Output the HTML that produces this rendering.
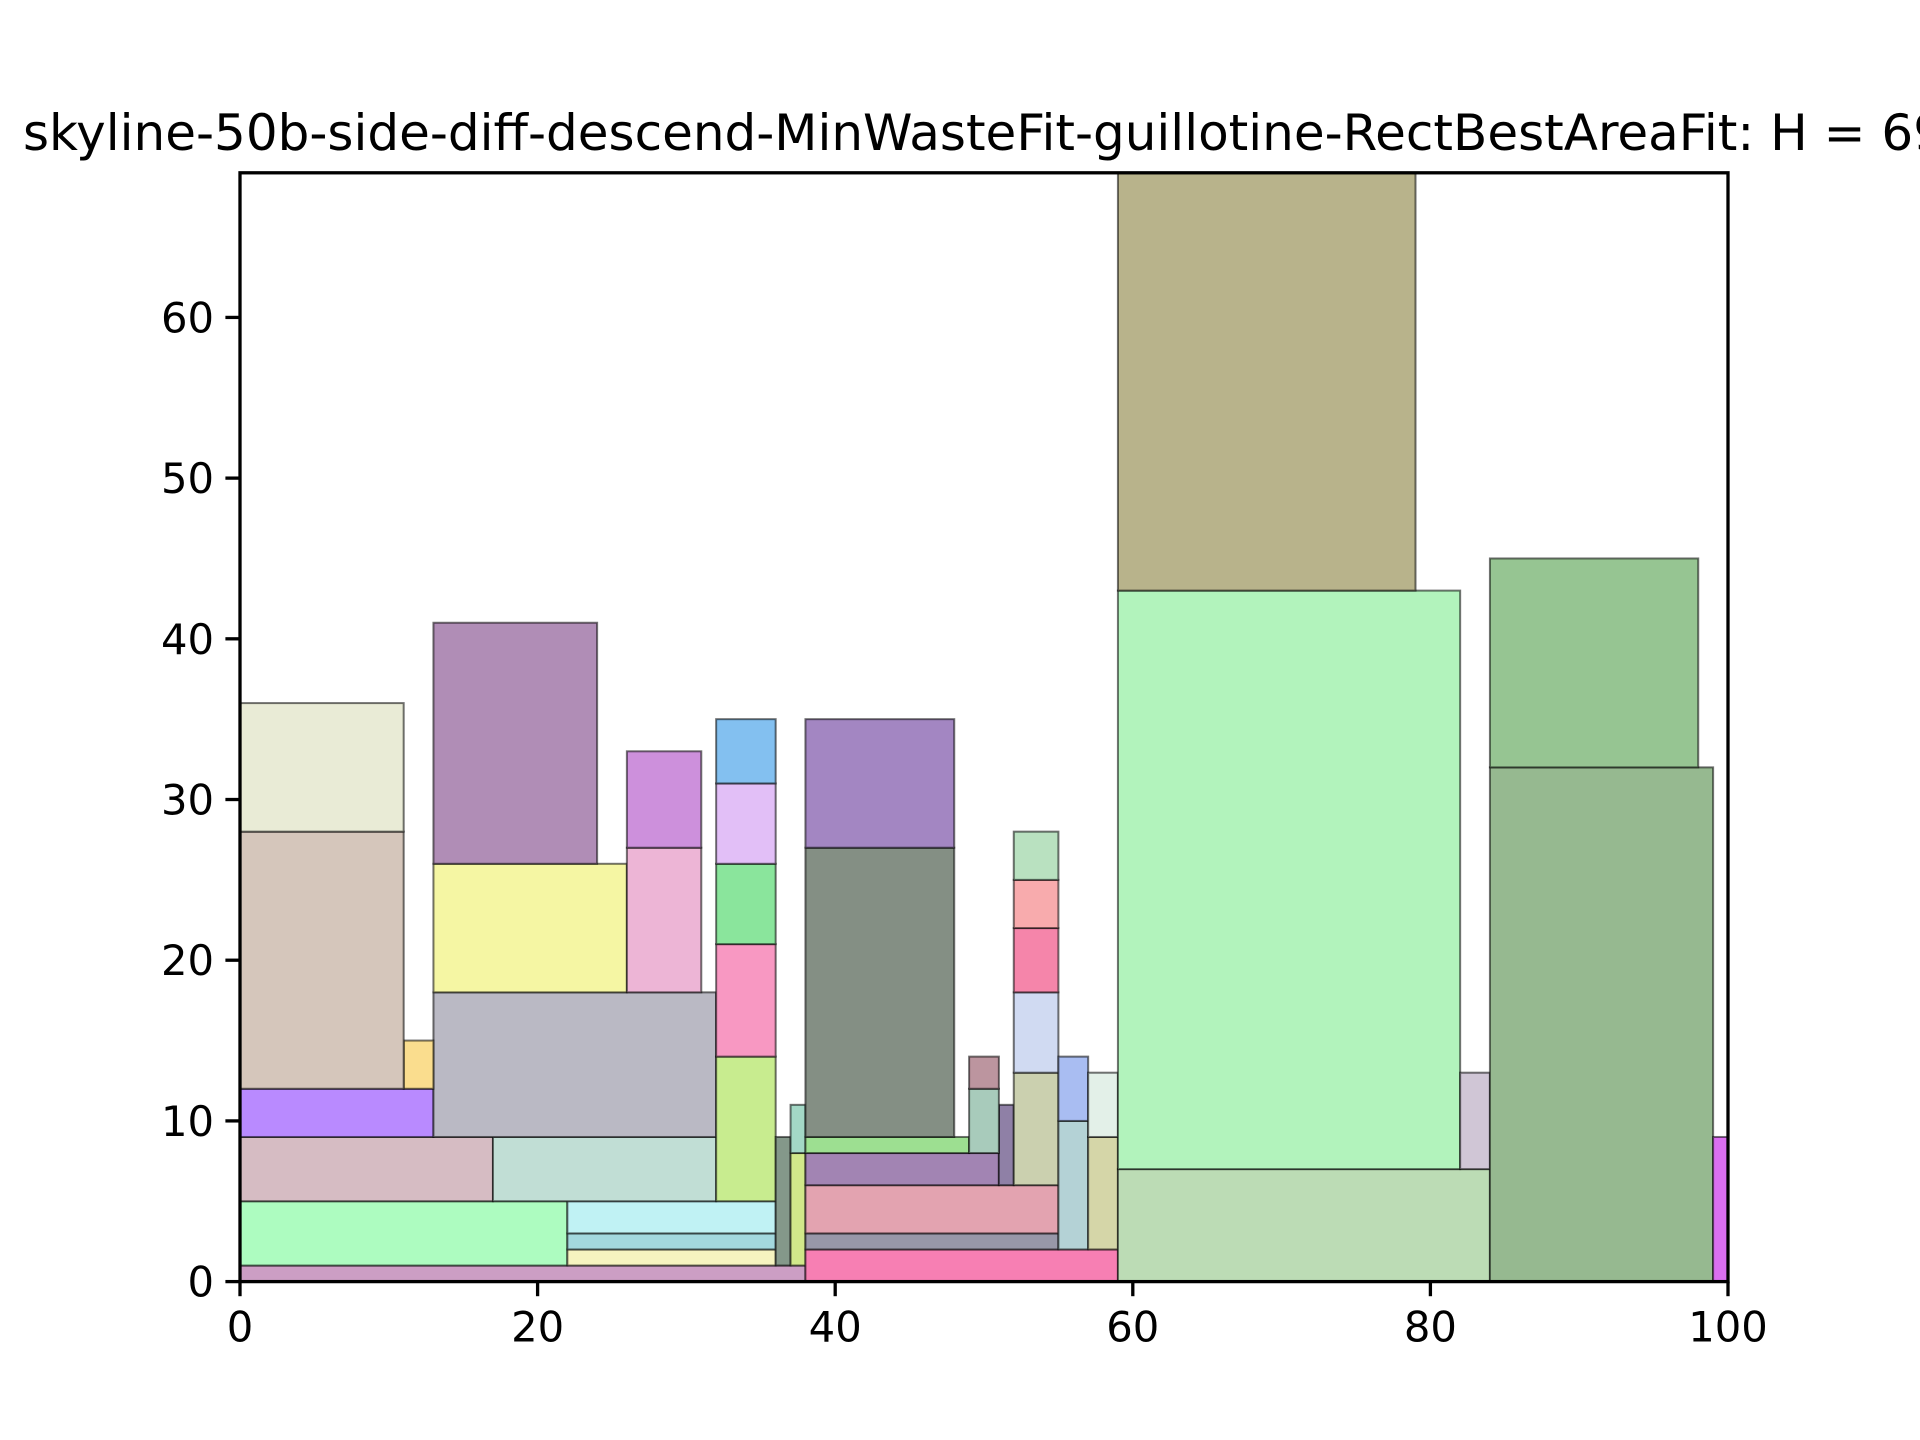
<!DOCTYPE html>
<html><head><meta charset="utf-8"><style>
html,body{margin:0;padding:0;background:#fff;}
svg{display:block;font-family:"DejaVu Sans","Liberation Sans",sans-serif;}
</style></head><body>
<svg id="chart" width="1920" height="1440" viewBox="0 0 1920 1440" xmlns="http://www.w3.org/2000/svg">
<rect width="1920" height="1440" fill="#fff"/>
<text x="984" y="150" font-size="50" text-anchor="middle" fill="#000">skyline-50b-side-diff-descend-MinWasteFit-guillotine-RectBestAreaFit: H = 69</text>
<g id="rects"></g>
<g id="axes"></g>
</svg>
<script>
const rectX = [0,0,22,22,22,0,17,0,13,11,0,0,13,13,26,26,32,32,32,32,32,36,37,37,38,38,38,38,51,38,38,38,49,49,52,52,52,52,52,55,55,57,57,59,59,59,82,84,84,99];
const rectY = [0,1,1,2,3,5,5,9,9,12,12,28,18,26,18,27,5,14,21,26,31,1,1,8,0,2,3,6,6,8,9,27,8,12,6,13,18,22,25,2,10,2,9,0,7,43,7,0,32,0];
const rectW = [38,22,14,14,14,17,15,13,19,2,11,11,13,11,5,5,4,4,4,4,4,1,1,1,21,17,17,13,1,11,10,10,2,2,3,3,3,3,3,2,2,2,2,25,23,20,2,15,14,1];
const rectH = [1,4,1,1,2,4,4,3,9,3,16,8,8,15,9,6,9,7,5,5,4,8,7,3,2,1,3,2,5,1,18,8,4,2,7,5,4,3,3,8,4,7,4,7,36,26,6,32,13,9];
const rectColors = ["#cc9ec4","#adfcc0","#f6f4c0","#a3d8de","#c0f2f4","#d6bcc3","#c1ded5","#b98aff","#bab9c4","#fadd8e","#d5c6bb","#e9ebd6","#f5f6a3","#b08db6","#edb5d6","#cd90dc","#c8ec8f","#f898c2","#8ae59c","#e2bff7","#83c0f0","#84988a","#d1e88a","#a3d8c6","#f77fb3","#9897a8","#e3a3b0","#a284b3","#8f80a6","#9ddf91","#848f84","#a386c2","#a8cbbb","#bc959f","#cbd0af","#d0daf2","#f585aa","#f8abad","#b9e1c0","#b4d2d6","#a9bdf2","#d5d6a8","#e3f0e8","#bcdcb5","#b2f3bc","#b8b38b","#d0c6d6","#96b990","#96c592","#da6ff0"];
const xTicks = [0,20,40,60,80,100];
const yTicks = [0,10,20,30,40,50,60];
const xMax = 100, yMax = 69;
const L=240, R=1728, T=172.8, B=1281.6;
const sx = v => L + (R-L)*v/xMax;
const sy = v => B - (B-T)*v/yMax;
const NS="http://www.w3.org/2000/svg";
const g=document.getElementById('rects');
for(let i=0;i<rectX.length;i++){
  const r=document.createElementNS(NS,'rect');
  r.setAttribute('x',sx(rectX[i]));
  r.setAttribute('y',sy(rectY[i]+rectH[i]));
  r.setAttribute('width',sx(rectX[i]+rectW[i])-sx(rectX[i]));
  r.setAttribute('height',sy(rectY[i])-sy(rectY[i]+rectH[i]));
  r.setAttribute('fill',rectColors[i]);
  r.setAttribute('stroke','rgba(0,0,0,0.55)');
  r.setAttribute('stroke-width','2');
  
  
  g.appendChild(r);
}
const a=document.getElementById('axes');
const frame=document.createElementNS(NS,'rect');
frame.setAttribute('x',L);frame.setAttribute('y',T);
frame.setAttribute('width',R-L);frame.setAttribute('height',B-T);
frame.setAttribute('fill','none');frame.setAttribute('stroke','#000');frame.setAttribute('stroke-width','3.3');


a.appendChild(frame);
xTicks.forEach(v=>{
  const l=document.createElementNS(NS,'line');
  l.setAttribute('x1',sx(v));l.setAttribute('x2',sx(v));l.setAttribute('y1',B);l.setAttribute('y2',B+14.6);
  l.setAttribute('stroke','#000');l.setAttribute('stroke-width','3.3');
  
  
  a.appendChild(l);
  const t=document.createElementNS(NS,'text');
  t.setAttribute('x',sx(v));t.setAttribute('y',B+60);t.setAttribute('font-size','41.7');t.setAttribute('text-anchor','middle');
  t.textContent=v;
  
  
  a.appendChild(t);
});
yTicks.forEach(v=>{
  const l=document.createElementNS(NS,'line');
  l.setAttribute('x1',L-14.6);l.setAttribute('x2',L);l.setAttribute('y1',sy(v));l.setAttribute('y2',sy(v));
  l.setAttribute('stroke','#000');l.setAttribute('stroke-width','3.3');
  
  
  a.appendChild(l);
  const t=document.createElementNS(NS,'text');
  t.setAttribute('x',L-26);t.setAttribute('y',sy(v)+15);t.setAttribute('font-size','41.7');t.setAttribute('text-anchor','end');
  t.textContent=v;
  
  
  a.appendChild(t);
});
</script>
</body></html>
